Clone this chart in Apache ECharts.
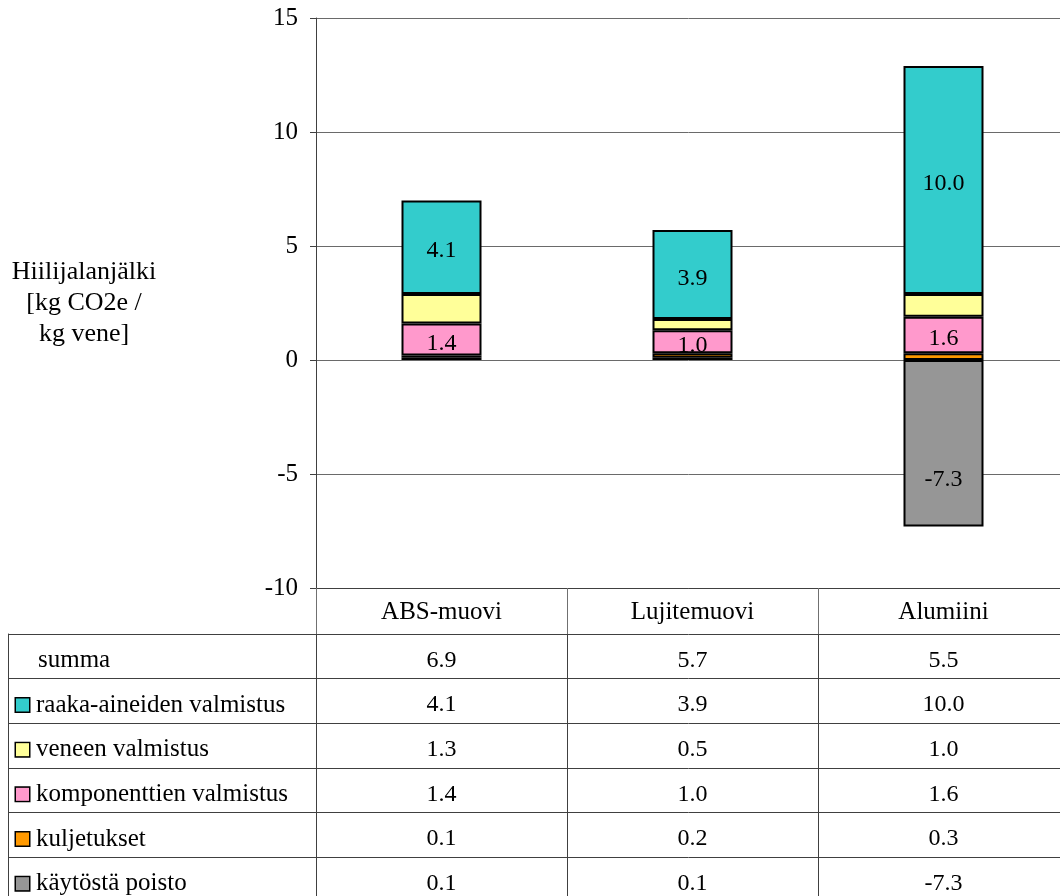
<!DOCTYPE html>
<html>
<head>
<meta charset="utf-8">
<script src="https://cdn.jsdelivr.net/npm/echarts@6/dist/echarts.min.js"></script>
<style>
  html, body { margin: 0; padding: 0; background: #fff; }
  #chart { width: 1060px; height: 896px; }
</style>
</head>
<body>
<div id="chart"></div>
<script>
// Carbon footprint per boat material, kg CO2e / kg boat
const categories = ['ABS-muovi', 'Lujitemuovi', 'Alumiini'];
const phaseNames = ['raaka-aineiden valmistus', 'veneen valmistus', 'komponenttien valmistus', 'kuljetukset', 'käytöstä poisto'];
const raakaAineet = [4.1, 3.9, 10.0];
const veneenValmistus = [1.3, 0.5, 1.0];
const komponentit = [1.4, 1.0, 1.6];
const kuljetukset = [0.1, 0.2, 0.3];
const kaytostaPoisto = [0.1, 0.1, -7.3];
const summa = [6.9, 5.7, 5.5];
const yTicks = [-10, -5, 0, 5, 10, 15];
const axisTitle = 'Hiilijalanjälki\n[kg CO2e /\nkg vene]';

const phaseValues = [raakaAineet, veneenValmistus, komponentit, kuljetukset, kaytostaPoisto];
const phaseColors = ['#33CCCC', '#FFFF99', '#FF99CC', '#FF9900', '#969696'];
const phaseLabelled = [true, false, true, false, true];

const FONT = 'Liberation Serif';
const FS_NUM = 24;   // numbers
const FS_TXT = 25;   // words
const LINE = '#404040';

// stack from the bottom up: disposal first, raw materials on top
const stackOrder = [4, 3, 2, 1, 0];
const barSeries = stackOrder.map(i => ({
  name: phaseNames[i],
  type: 'bar',
  stack: 'total',
  xAxisIndex: 0,
  yAxisIndex: 0,
  barWidth: 80,
  data: phaseValues[i].map(v => ({
    value: v,
    // the negative disposal label sits in the lower part of its bar
    label: v < 0 ? { offset: [0, 36] } : undefined
  })),
  itemStyle: { color: phaseColors[i], borderColor: '#000', borderWidth: 2 },
  label: {
    show: phaseLabelled[i],
    position: 'inside',
    offset: [0, 4],
    fontFamily: FONT,
    fontSize: FS_NUM,
    color: '#000',
    formatter: p => Math.abs(p.value) >= 1 ? p.value.toFixed(1) : ''
  },
  emphasis: { disabled: true }
}));

// data table below the chart
const tableRows = ['summa'].concat(phaseNames);
const tableValues = [summa].concat(phaseValues);
const cellData = [];
tableValues.forEach((row, r) => row.forEach((v, c) => cellData.push([c, r, v])));

const rich = {
  t: { fontFamily: FONT, fontSize: FS_TXT, color: '#000', padding: [0, 0, 0, 7] },
  s: { width: 15, height: 15 }
};
phaseColors.forEach((col, i) => {
  rich['b' + i] = { width: 13, height: 13, backgroundColor: col, borderColor: '#000', borderWidth: 1.5 };
});

const option = {
  animation: false,
  backgroundColor: '#fff',
  textStyle: { fontFamily: FONT },
  grid: [
    { left: 316, right: -9, top: 18, bottom: 308, outerBoundsMode: 'none' },
    { left: 316, right: -9, top: 634, height: 268, outerBoundsMode: 'none' },
    { left: 8, width: 308, top: 634, height: 268, outerBoundsMode: 'none' }
  ],
  xAxis: [
    {
      type: 'category', gridIndex: 0, data: categories, position: 'bottom',
      axisLine: { show: true, onZero: false, lineStyle: { color: LINE, width: 1 } },
      axisTick: { show: true, length: 46, lineStyle: { color: '#707070' } },
      axisLabel: { fontFamily: FONT, fontSize: FS_TXT, color: '#000', margin: 12 },
      splitLine: { show: false }
    },
    {
      type: 'category', gridIndex: 1, data: categories,
      axisLine: { show: false }, axisTick: { show: false }, axisLabel: { show: false },
      splitLine: { show: true, lineStyle: { color: LINE } }
    },
    {
      type: 'value', gridIndex: 2, min: 0, max: 1, show: false
    }
  ],
  yAxis: [
    {
      type: 'value', gridIndex: 0,
      min: yTicks[0], max: yTicks[yTicks.length - 1], interval: 5,
      name: axisTitle, nameLocation: 'middle', nameRotate: 0, nameGap: 232,
      nameTextStyle: { fontFamily: FONT, fontSize: FS_TXT + 1, color: '#000', align: 'center', verticalAlign: 'middle', lineHeight: 31 },
      axisLine: { show: true, lineStyle: { color: LINE } },
      axisTick: { show: true, length: 6, lineStyle: { color: LINE } },
      axisLabel: { fontFamily: FONT, fontSize: 25, color: '#000', margin: 18, padding: [5, 0, 0, 0] },
      splitLine: { show: true, lineStyle: { color: '#6a6a6a' } }
    },
    {
      type: 'category', gridIndex: 1, data: tableRows, inverse: true,
      axisLine: { show: true, lineStyle: { color: LINE } },
      axisTick: { show: false }, axisLabel: { show: false },
      splitLine: { show: true, lineStyle: { color: LINE } }
    },
    {
      type: 'category', gridIndex: 2, data: tableRows, inverse: true,
      axisLine: { show: true, lineStyle: { color: LINE } },
      axisTick: { show: false },
      splitLine: { show: true, lineStyle: { color: LINE } },
      axisLabel: {
        inside: true, align: 'left', margin: 8, padding: [8, 0, 0, 0],
        formatter: (name, idx) => idx === 0 ? '{s|}{t|' + name + '}' : '{b' + (idx - 1) + '|}{t|' + name + '}',
        rich: rich
      }
    }
  ],
  series: barSeries.concat([
    {
      name: 'taulukko',
      type: 'scatter',
      xAxisIndex: 1,
      yAxisIndex: 1,
      symbolSize: 0,
      itemStyle: { color: '#000', opacity: 1 },
      data: cellData,
      label: {
        show: true, position: 'inside', offset: [0, 4],
        fontFamily: FONT, fontSize: FS_NUM, color: '#000', opacity: 1,
        formatter: p => p.value[2].toFixed(1)
      },
      emphasis: { disabled: true }
    }
  ])
};

const chart = echarts.init(document.getElementById('chart'), null, { renderer: 'canvas' });
chart.setOption(option);
</script>
</body>
</html>
